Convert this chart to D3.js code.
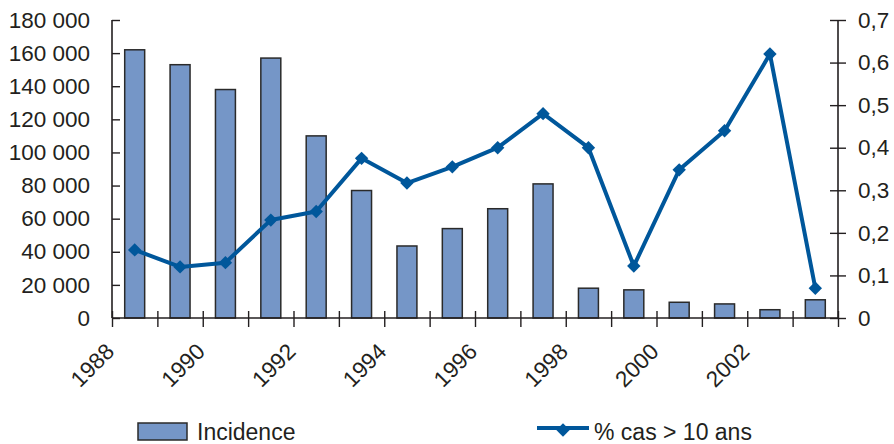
<!DOCTYPE html>
<html>
<head>
<meta charset="utf-8">
<script src="https://cdn.jsdelivr.net/npm/d3@7"></script>
<style>
  html, body { margin: 0; padding: 0; background: #fff; }
  svg { display: block; font-family: "Liberation Sans", Arial, sans-serif; }
</style>
</head>
<body>
<svg id="chart" width="894" height="444"></svg>
<script>
// Years shown on the category axis
const years = [1988, 1989, 1990, 1991, 1992, 1993, 1994, 1995, 1996, 1997, 1998, 1999, 2000, 2001, 2002, 2003];
// Incidence (bars, left axis)
const incidence = [162000, 153000, 138000, 157000, 110000, 77000, 43500, 54000, 66000, 81000, 18000, 17000, 9500, 8500, 5000, 11000];
// Share of cases older than 10 years (line, right axis)
const pctOver10 = [0.16, 0.12, 0.13, 0.23, 0.25, 0.375, 0.317, 0.355, 0.40, 0.48, 0.40, 0.122, 0.348, 0.44, 0.62, 0.07];
// Tick values
const leftTicks = [0, 20000, 40000, 60000, 80000, 100000, 120000, 140000, 160000, 180000];
const rightTicks = [0, 0.1, 0.2, 0.3, 0.4, 0.5, 0.6, 0.7];
const yearLabels = [1988, 1990, 1992, 1994, 1996, 1998, 2000, 2002];
const seriesNames = ["Incidence", "% cas > 10 ans"];

const svg = d3.select("#chart");
const mLeft = 112, mRight = 838, mTop = 20, mBottom = 318;
const textColor = "#231f20";
const barFill = "#7596c7";
const lineColor = "#00579b";
const fontSize = "22.5px";

const x = d3.scaleBand().domain(years).range([mLeft, mRight]).paddingInner(0.56).paddingOuter(0.28);
const xEdge = d3.scaleLinear().domain([years[0], years[years.length - 1] + 1]).range([mLeft, mRight]);
const yL = d3.scaleLinear().domain([0, 180000]).range([mBottom, mTop]);
const yR = d3.scaleLinear().domain([0, 0.7]).range([mBottom, mTop]);

const fmtThousands = v => d3.format(",")(v).replace(/,/g, " ");
const fmtComma = v => v === 0 ? "0" : d3.format(".1f")(v).replace(".", ",");

// Bars
svg.append("g").selectAll("rect").data(years).join("rect")
  .attr("x", d => x(d))
  .attr("width", x.bandwidth())
  .attr("y", (d, i) => yL(incidence[i]))
  .attr("height", (d, i) => mBottom - yL(incidence[i]))
  .attr("fill", barFill)
  .attr("stroke", "#2a2a2a")
  .attr("stroke-width", 1.5);

// Left axis with ticks crossing the line
const gL = svg.append("g").attr("transform", `translate(${mLeft},0)`)
  .call(d3.axisLeft(yL).tickValues(leftTicks).tickFormat(fmtThousands).tickSize(8).tickPadding(14));
gL.selectAll(".tick line").attr("x2", 8);

// Right axis
const gR = svg.append("g").attr("transform", `translate(${mRight},0)`)
  .call(d3.axisRight(yR).tickValues(rightTicks).tickFormat(fmtComma).tickSize(8).tickPadding(12));
gR.selectAll(".tick line").attr("x2", 8).attr("x1", -8);

// Bottom axis: ticks at category boundaries, labels every second year
const edges = d3.range(years[0], years[years.length - 1] + 2);
const gB = svg.append("g").attr("transform", `translate(0,${mBottom})`)
  .call(d3.axisBottom(xEdge).tickValues(edges).tickFormat(d => yearLabels.includes(d) ? d : "").tickSize(9));
gB.selectAll(".tick line").attr("y1", -7);
gB.selectAll(".tick text")
  .attr("text-anchor", "end")
  .attr("x", 0).attr("y", 0).attr("dy", 0)
  .attr("transform", "translate(3,35) rotate(-45)");

[gL, gR, gB].forEach(g => {
  g.select(".domain").attr("stroke", "#231f20").attr("stroke-width", 1.6);
  g.selectAll(".tick line").attr("stroke", "#231f20").attr("stroke-width", 1.4);
  g.selectAll(".tick text").attr("fill", textColor).style("font-size", fontSize);
});
gL.select(".domain").attr("d", `M0,${mTop}V${mBottom}`);
gR.select(".domain").attr("d", `M0,${mTop}V${mBottom}`);
gB.select(".domain").attr("d", `M${mLeft},0H${mRight}`);

// Line series
const cx = d => x(d) + x.bandwidth() / 2;
const line = d3.line().x(d => cx(d)).y((d, i) => yR(pctOver10[i]));
svg.append("path").datum(years)
  .attr("d", line)
  .attr("fill", "none")
  .attr("stroke", lineColor)
  .attr("stroke-width", 4)
  .attr("stroke-linejoin", "round");

const diamond = d3.symbol().type(d3.symbolSquare).size(90);
svg.append("g").selectAll("path").data(years).join("path")
  .attr("d", diamond)
  .attr("transform", (d, i) => `translate(${cx(d)},${yR(pctOver10[i])}) rotate(45)`)
  .attr("fill", lineColor);

// Legend
const lg = svg.append("g");
lg.append("rect").attr("x", 138).attr("y", 423).attr("width", 49).attr("height", 17)
  .attr("fill", barFill).attr("stroke", "#2a2a2a").attr("stroke-width", 1.5);
lg.append("text").attr("x", 197).attr("y", 440).text(seriesNames[0])
  .attr("fill", textColor).style("font-size", "23px");
lg.append("line").attr("x1", 537).attr("x2", 589).attr("y1", 428).attr("y2", 428)
  .attr("stroke", lineColor).attr("stroke-width", 4);
lg.append("path").attr("d", diamond).attr("transform", "translate(563,430) rotate(45)").attr("fill", lineColor);
lg.append("text").attr("x", 594).attr("y", 440).text(seriesNames[1])
  .attr("fill", textColor).style("font-size", "23px");
</script>
</body>
</html>
